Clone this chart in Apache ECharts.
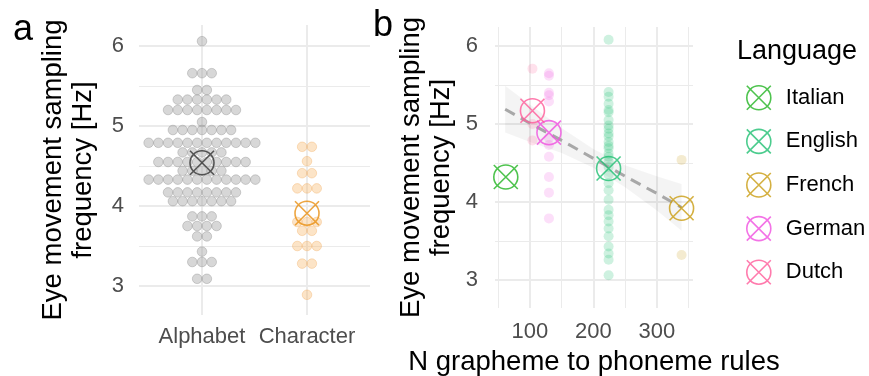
<!DOCTYPE html>
<html><head><meta charset="utf-8">
<script src="https://cdn.jsdelivr.net/npm/echarts@6/dist/echarts.min.js"></script>
<style>html,body{margin:0;padding:0;background:#fff}#c{width:869px;height:376px}</style>
</head><body><div id="c"></div>
<script>
// ---------- DATA ----------
const groupCategories = ['Alphabet', 'Character'];
const alphabetValues = [
  6.06,
  5.66, 5.66, 5.66,
  5.45, 5.45,
  5.33, 5.33, 5.33, 5.33, 5.33, 5.33,
  5.20, 5.20, 5.20, 5.20, 5.20, 5.20, 5.20, 5.20,
  5.05,
  4.95, 4.95, 4.95, 4.95, 4.95, 4.95, 4.95,
  4.79, 4.79, 4.79, 4.79, 4.79, 4.79, 4.79, 4.79, 4.79, 4.79, 4.79, 4.79,
  4.67, 4.67, 4.67, 4.67, 4.67,
  4.55, 4.55, 4.55, 4.55, 4.55, 4.55, 4.55, 4.55, 4.55, 4.55,
  4.44, 4.44, 4.44, 4.44, 4.44,
  4.33, 4.33, 4.33, 4.33, 4.33, 4.33, 4.33, 4.33, 4.33, 4.33, 4.33, 4.33,
  4.17, 4.17, 4.17, 4.17, 4.17, 4.17, 4.17, 4.17,
  4.06, 4.06, 4.06, 4.06, 4.06, 4.06, 4.06,
  3.87, 3.87, 3.87,
  3.75, 3.75, 3.75, 3.75,
  3.62, 3.62,
  3.43,
  3.30, 3.30, 3.30,
  3.09, 3.09
];
const characterValues = [
  4.74, 4.74,
  4.56,
  4.41, 4.41,
  4.22, 4.22, 4.22,
  3.80, 3.80, 3.80,
  3.69, 3.69,
  3.50, 3.50, 3.50,
  3.28, 3.28,
  2.89
];
const groupMeans = [4.54, 3.91];

const languages = ['Italian', 'English', 'French', 'German', 'Dutch'];
const languageColors = ['#22B422', '#1FBF72', '#C99C12', '#F050E0', '#FF5A98'];
const gpRules = [62, 224, 339, 130, 104];
const languageMeans = [4.32, 4.43, 3.92, 4.89, 5.17];
const italianDots = [];
const englishDots = [6.08, 5.41, 5.35, 5.26, 5.18, 5.15, 5.05, 4.98, 4.94, 4.88, 4.84, 4.77, 4.72,
  4.69, 4.62, 4.58, 4.52, 4.45, 4.35, 4.24, 4.15, 4.03, 3.90, 3.83, 3.75, 3.66, 3.56, 3.43, 3.34, 3.26, 3.06];
const frenchDots = [4.54, 3.32];
const germanDots = [5.65, 5.62, 5.40, 5.37, 5.29, 4.82, 4.73, 4.58, 4.32, 4.12, 3.79];
const dutchDots = [5.71, 5.00, 4.79];
const languageDots = [italianDots, englishDots, frenchDots, germanDots, dutchDots];

const fitX = [61, 100, 150, 200, 250, 300, 339];
const fitY = [5.19, 5.01, 4.79, 4.56, 4.33, 4.11, 3.93];
const fitLower = [4.89, 4.77, 4.63, 4.44, 4.19, 3.89, 3.63];
const fitUpper = [5.49, 5.25, 4.95, 4.68, 4.47, 4.33, 4.23];

const yMajorTicks = [3, 4, 5, 6];
const yMinorTicks = [3.5, 4.5, 5.5];
const xMajorTicksB = [100, 200, 300];
const xMinorTicksB = [50, 150, 250, 350];

// ---------- LAYOUT / STYLE ----------
const FONT = 'Liberation Sans';
const crossCircle = 'path://M0,0L20,20M20,0L0,20M10,0A10,10,0,1,1,10,20A10,10,0,1,1,10,0Z';
const GRID_COL = '#EBEBEB';
const dotStep = 0.0924;

function swarm(values, center, step) {
  const rows = new Map();
  values.forEach(v => {
    const k = v.toFixed(3);
    if (!rows.has(k)) rows.set(k, []);
    rows.get(k).push(v);
  });
  const out = [];
  rows.forEach(arr => {
    const n = arr.length;
    arr.forEach((v, i) => out.push([center + (i - (n - 1) / 2) * step, v]));
  });
  return out;
}

function gridLines(xAxisIndex, yAxisIndex, xMajor, xMinor) {
  const data = [];
  yMajorTicks.forEach(v => data.push({ yAxis: v, lineStyle: { color: GRID_COL, width: 2, type: 'solid' } }));
  yMinorTicks.forEach(v => data.push({ yAxis: v, lineStyle: { color: GRID_COL, width: 1, type: 'solid' } }));
  xMajor.forEach(v => data.push({ xAxis: v, lineStyle: { color: GRID_COL, width: 2, type: 'solid' } }));
  xMinor.forEach(v => data.push({ xAxis: v, lineStyle: { color: GRID_COL, width: 1, type: 'solid' } }));
  return {
    type: 'scatter', xAxisIndex, yAxisIndex, data: [], silent: true, z: 0,
    markLine: { silent: true, symbol: ['none', 'none'], label: { show: false }, z: 0, animation: false, data }
  };
}

const series = [];
series.push(gridLines(0, 0, [1, 2], []));
series.push(gridLines(1, 1, xMajorTicksB, xMinorTicksB));

// panel a dots
series.push({
  type: 'scatter', xAxisIndex: 0, yAxisIndex: 0, z: 2,
  data: swarm(alphabetValues, 1, dotStep), symbolSize: 9.6,
  itemStyle: { color: 'rgba(165,165,165,0.55)', borderColor: 'rgba(140,140,140,0.6)', borderWidth: 0.8 }
});
series.push({
  type: 'scatter', xAxisIndex: 0, yAxisIndex: 0, z: 2,
  data: swarm(characterValues, 2, dotStep), symbolSize: 9.6,
  itemStyle: { color: 'rgba(246,180,100,0.45)', borderColor: 'rgba(240,170,90,0.55)', borderWidth: 0.8 }
});
series.push({
  type: 'scatter', xAxisIndex: 0, yAxisIndex: 0, z: 4,
  data: groupMeans.map((m, i) => ({ value: [i + 1, m], itemStyle: { borderColor: i === 0 ? '#333333' : '#E88E10' } })),
  symbol: crossCircle, symbolSize: 24,
  itemStyle: { color: 'rgba(0,0,0,0)', borderWidth: 1.6 }
});

// panel b band
series.push({
  type: 'custom', xAxisIndex: 1, yAxisIndex: 1, z: 1, silent: true,
  data: fitX.map((x, i) => [x, fitY[i]]),
  renderItem: function (params, api) {
    if (params.dataIndex !== 0) return null;
    const pts = [];
    for (let i = 0; i < fitX.length; i++) pts.push(api.coord([fitX[i], fitUpper[i]]));
    for (let i = fitX.length - 1; i >= 0; i--) pts.push(api.coord([fitX[i], fitLower[i]]));
    return { type: 'polygon', shape: { points: pts }, style: { fill: 'rgba(0,0,0,0.045)' } };
  }
});
// panel b dots
const dotOpacity = [0.2, 0.22, 0.2, 0.18, 0.18];
languages.forEach((lang, i) => {
  series.push({
    name: lang + ' participants', type: 'scatter', xAxisIndex: 1, yAxisIndex: 1, z: 2,
    data: languageDots[i].map(v => [gpRules[i], v]), symbolSize: 10,
    itemStyle: { color: languageColors[i], opacity: dotOpacity[i] }
  });
});
// regression line
series.push({
  type: 'line', xAxisIndex: 1, yAxisIndex: 1, z: 3, silent: true,
  data: fitX.map((x, i) => [x, fitY[i]]), showSymbol: false, symbol: 'none',
  lineStyle: { color: '#A8A8A8', width: 3, type: [11, 7] }
});
// language means
languages.forEach((lang, i) => {
  series.push({
    name: lang, type: 'scatter', xAxisIndex: 1, yAxisIndex: 1, z: 4,
    data: [[gpRules[i], languageMeans[i]]], symbol: crossCircle, symbolSize: 24,
    itemStyle: { color: 'rgba(0,0,0,0)', borderColor: languageColors[i], borderWidth: 1.6 }
  });
});

const tickLabel = { fontFamily: FONT, fontSize: 22, color: '#4D4D4D' };
const nameStyle = { fontFamily: FONT, fontSize: 27.5, color: '#000', lineHeight: 30 };

const option = {
  animation: false,
  backgroundColor: '#ffffff',
  textStyle: { fontFamily: FONT },
  grid: [
    { left: 139, top: 25, width: 231, height: 290, outerBoundsMode: 'none', containLabel: false },
    { left: 495, top: 27, width: 198, height: 281, outerBoundsMode: 'none', containLabel: false }
  ],
  xAxis: [
    { type: 'value', gridIndex: 0, min: 0.4, max: 2.6, axisLine: { show: false }, axisTick: { show: false },
      splitLine: { show: false },
      axisLabel: Object.assign({ customValues: [1, 2], margin: 11, formatter: v => groupCategories[Math.round(v) - 1] || '' }, tickLabel) },
    { type: 'value', gridIndex: 1, min: 45, max: 357, axisLine: { show: false }, axisTick: { show: false },
      splitLine: { show: false },
      axisLabel: Object.assign({ customValues: xMajorTicksB, margin: 13 }, tickLabel),
      name: 'N grapheme to phoneme rules', nameLocation: 'middle', nameGap: 21, nameTextStyle: nameStyle }
  ],
  yAxis: [
    { type: 'value', gridIndex: 0, min: 2.6375, max: 6.2625, axisLine: { show: false }, axisTick: { show: false },
      splitLine: { show: false },
      axisLabel: Object.assign({ customValues: yMajorTicks, margin: 15 }, tickLabel),
      name: 'Eye movement sampling\nfrequency [Hz]', nameLocation: 'middle', nameGap: 41, nameRotate: 90, nameTextStyle: nameStyle },
    { type: 'value', gridIndex: 1, min: 2.641, max: 6.244, axisLine: { show: false }, axisTick: { show: false },
      splitLine: { show: false },
      axisLabel: Object.assign({ customValues: yMajorTicks, margin: 17 }, tickLabel),
      name: 'Eye movement sampling\nfrequency [Hz]', nameLocation: 'middle', nameGap: 39, nameRotate: 90, nameTextStyle: nameStyle }
  ],
  legend: {
    data: languages, orient: 'vertical', left: 746, top: 85, padding: 0,
    itemWidth: 24, itemHeight: 24, itemGap: 18,
    itemStyle: { borderWidth: 1.6 },
    textStyle: { fontFamily: FONT, fontSize: 22, color: '#000', padding: [0, 0, 0, 10] },
    selectedMode: false
  },
  graphic: [
    { type: 'text', left: 13, top: 12, style: { text: 'a', font: '36px "Liberation Sans"', fill: '#000' } },
    { type: 'text', left: 373, top: 8, style: { text: 'b', font: '36px "Liberation Sans"', fill: '#000' } },
    { type: 'text', left: 737, top: 38, style: { text: 'Language', font: '27px "Liberation Sans"', fill: '#000' } }
  ],
  series
};

const chart = echarts.init(document.getElementById('c'), null, { renderer: 'canvas' });
chart.setOption(option);
</script>
</body></html>
